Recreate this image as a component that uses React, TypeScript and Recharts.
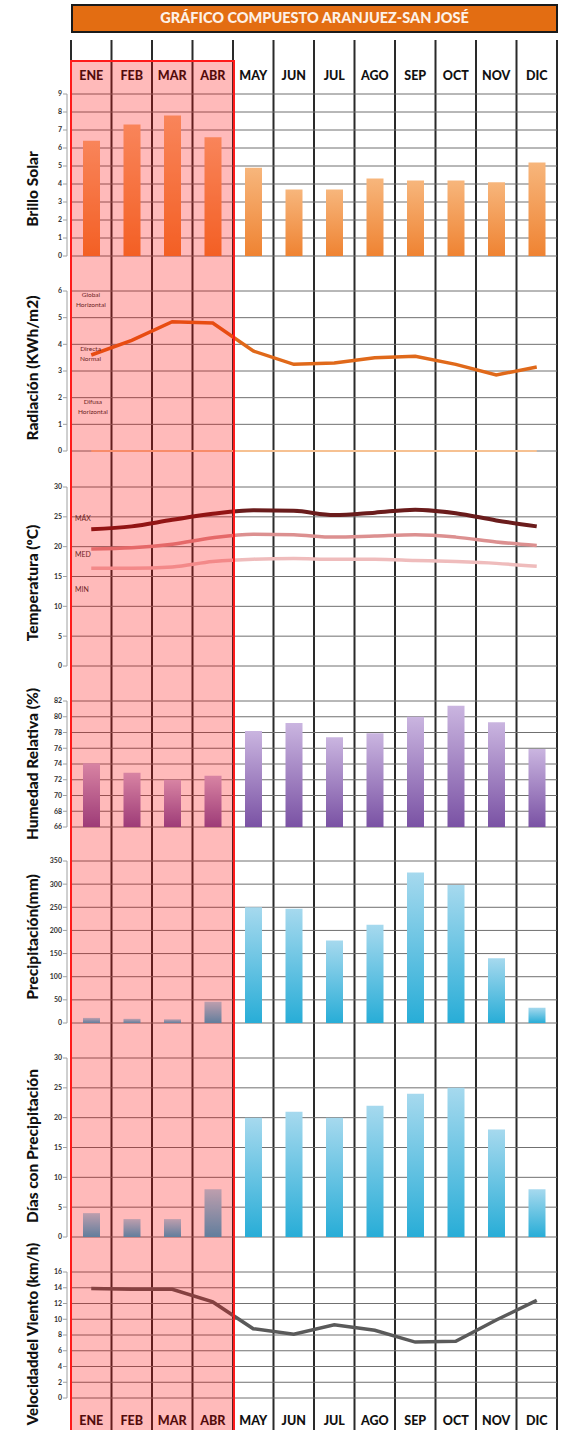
import { BarChart, Bar, LineChart, Line, ComposedChart, XAxis, YAxis, CartesianGrid } from "recharts";
import type { ReactNode } from "react";

const MONTHS = ["ENE", "FEB", "MAR", "ABR", "MAY", "JUN", "JUL", "AGO", "SEP", "OCT", "NOV", "DIC"];
const BRILLO_SOLAR = [6.4, 7.3, 7.8, 6.6, 4.9, 3.7, 3.7, 4.3, 4.2, 4.2, 4.1, 5.2];
const RADIACION = [3.6, 4.15, 4.85, 4.8, 3.75, 3.25, 3.3, 3.5, 3.55, 3.25, 2.85, 3.15];
const RADIACION_BASE = [0, 0, 0, 0, 0, 0, 0, 0, 0, 0, 0, 0];
const TEMP_MAX = [22.9, 23.4, 24.5, 25.5, 26.1, 26.0, 25.3, 25.7, 26.2, 25.6, 24.4, 23.4];
const TEMP_MED = [19.6, 19.8, 20.4, 21.5, 22.1, 22.0, 21.6, 21.8, 22.0, 21.6, 20.8, 20.2];
const TEMP_MIN = [16.4, 16.4, 16.6, 17.5, 17.9, 18.0, 17.9, 17.9, 17.7, 17.5, 17.2, 16.7];
const HUMEDAD = [74.1, 72.9, 72.0, 72.5, 78.2, 79.2, 77.4, 77.9, 80.0, 81.4, 79.3, 75.9];
const PRECIPITACION = [11, 9, 8, 46, 250, 247, 178, 212, 325, 298, 140, 33];
const DIAS_PRECIPITACION = [4, 3, 3, 8, 20, 21, 20, 22, 24, 25, 18, 8];
const VIENTO = [13.9, 13.8, 13.8, 12.2, 8.8, 8.1, 9.3, 8.6, 7.1, 7.2, 9.9, 12.4];

const BRILLO_TICKS = [0, 1, 2, 3, 4, 5, 6, 7, 8, 9];
const RADIACION_TICKS = [0, 1, 2, 3, 4, 5, 6];
const TEMP_TICKS = [0, 5, 10, 15, 20, 25, 30];
const HUMEDAD_TICKS = [66, 68, 70, 72, 74, 76, 78, 80, 82];
const PRECIP_TICKS = [0, 50, 100, 150, 200, 250, 300, 350];
const DIAS_TICKS = [0, 5, 10, 15, 20, 25, 30];
const VIENTO_TICKS = [0, 2, 4, 6, 8, 10, 12, 14, 16];
const FRAME_TICKS = [0, 1, 2, 3, 4, 5, 6, 7, 8, 9, 10, 11, 12];

const data = MONTHS.map((month, i) => ({
  month,
  pos: i + 0.5,
  brillo: BRILLO_SOLAR[i],
  rad: RADIACION[i],
  radBase: RADIACION_BASE[i],
  tMax: TEMP_MAX[i],
  tMed: TEMP_MED[i],
  tMin: TEMP_MIN[i],
  hum: HUMEDAD[i],
  prec: PRECIPITACION[i],
  dias: DIAS_PRECIPITACION[i],
  viento: VIENTO[i],
}));

const FONT = "Lato, 'Open Sans', sans-serif";
const W = 565;
const MARGIN = { top: 5, right: 8, left: 31, bottom: 5 };
const tickStyle = { fontSize: 7, fontWeight: 700, fill: "#333", fontFamily: FONT };
const monthTick = { fontSize: 12.5, fontWeight: 900, fill: "#111", fontFamily: FONT };

function yAxis(domain: number[], ticks: number[]) {
  return (
    <YAxis
      width={40}
      domain={domain}
      ticks={ticks}
      interval={0}
      tick={tickStyle}
      tickSize={4}
      tickMargin={5}
      axisLine={{ stroke: "#a0a0a0", transform: "translate(-4,0)" }}
      tickLine={{ stroke: "#a0a0a0", transform: "translate(-4,0)" }}
    />
  );
}

const grid = <CartesianGrid vertical={false} stroke="#707070" strokeWidth={1} />;

function AxisLabel({ text, cy, size = 15.5 }: { text: string; cy: number; size?: number }) {
  return (
    <div
      style={{
        position: "absolute",
        left: 32 - 130,
        top: cy - 10,
        width: 260,
        height: 20,
        lineHeight: "20px",
        textAlign: "center",
        transform: "rotate(-90deg)",
        fontFamily: FONT,
        fontWeight: 900,
        fontSize: size,
        color: "#111",
        whiteSpace: "nowrap",
      }}
    >
      {text}
    </div>
  );
}

function Note({ x, y, children, size = 6.5 }: { x: number; y: number; children: ReactNode; size?: number }) {
  return (
    <div
      style={{
        position: "absolute",
        left: x,
        top: y,
        fontFamily: FONT,
        fontSize: size,
        lineHeight: `${size + 3}px`,
        color: "#333",
        textAlign: "center",
      }}
    >
      {children}
    </div>
  );
}

function Box({ top, children }: { top: number; children: ReactNode }) {
  return <div style={{ position: "absolute", left: 0, top }}>{children}</div>;
}

export default function App() {
  return (
    <div
      style={{
        position: "absolute",
        left: 0,
        top: 0,
        width: W,
        height: 1430,
        overflow: "hidden",
        background: "#fff",
        fontFamily: FONT,
      }}
    >
      {/* column separators */}
      <Box top={0}>
        <ComposedChart width={W} height={1430} data={data} margin={{ top: 40, right: 8, left: 71, bottom: 0 }}>
          <XAxis type="number" dataKey="pos" domain={[0, 12]} ticks={FRAME_TICKS} hide />
          <YAxis hide domain={[0, 1]} />
          <CartesianGrid horizontal={false} stroke="#2a2a2a" strokeWidth={2} />
        </ComposedChart>
      </Box>

      <div
        style={{
          position: "absolute",
          left: 71,
          top: 4,
          width: 487,
          height: 29,
          boxSizing: "border-box",
          border: "2.5px solid #1a1a1a",
          background: "#e36d12",
          color: "#fdf1e7",
          fontFamily: FONT,
          fontWeight: 900,
          fontSize: 14.5,
          lineHeight: "24px",
          textAlign: "center",
        }}
      >
        GRÁFICO COMPUESTO ARANJUEZ-SAN JOSÉ
      </div>

      {/* Brillo Solar */}
      <Box top={59}>
        <BarChart width={W} height={202} data={data} margin={MARGIN}>
          <defs>
            <linearGradient id="gOrange" x1="0" y1="0" x2="0" y2="1">
              <stop offset="0%" stopColor="#f7b67c" />
              <stop offset="100%" stopColor="#ef8332" />
            </linearGradient>
          </defs>
          {grid}
          <XAxis
            dataKey="month"
            orientation="top"
            height={30}
            scale="band"
            axisLine={false}
            tickLine={false}
            tickSize={0}
            tickMargin={14}
            interval={0}
            tick={monthTick}
          />
          {yAxis([0, 9], BRILLO_TICKS)}
          <Bar dataKey="brillo" barSize={17} fill="url(#gOrange)" isAnimationActive={false} />
        </BarChart>
      </Box>

      {/* Radiación */}
      <Box top={286}>
        <LineChart width={W} height={170} data={data} margin={MARGIN}>
          {grid}
          <XAxis dataKey="month" scale="band" hide />
          {yAxis([0, 6], RADIACION_TICKS)}
          <Line dataKey="radBase" stroke="#f6c192" strokeWidth={2} dot={false} isAnimationActive={false} />
          <Line type="linear" dataKey="rad" stroke="#e0691a" strokeWidth={3.5} dot={false} isAnimationActive={false} />
        </LineChart>
      </Box>

      {/* Temperatura */}
      <Box top={482}>
        <LineChart width={W} height={189} data={data} margin={MARGIN}>
          {grid}
          <XAxis dataKey="month" scale="band" hide />
          {yAxis([0, 30], TEMP_TICKS)}
          <Line type="monotone" dataKey="tMin" stroke="#efbcbc" strokeWidth={3.5} dot={false} isAnimationActive={false} />
          <Line type="monotone" dataKey="tMed" stroke="#dc9090" strokeWidth={3.5} dot={false} isAnimationActive={false} />
          <Line type="monotone" dataKey="tMax" stroke="#6a1c1c" strokeWidth={4} dot={false} isAnimationActive={false} />
        </LineChart>
      </Box>

      {/* Humedad */}
      <Box top={696}>
        <BarChart width={W} height={136} data={data} margin={MARGIN}>
          <defs>
            <linearGradient id="gPurple" x1="0" y1="0" x2="0" y2="1">
              <stop offset="0%" stopColor="#cab5e0" />
              <stop offset="100%" stopColor="#7a52a4" />
            </linearGradient>
          </defs>
          {grid}
          <XAxis dataKey="month" scale="band" hide />
          {yAxis([66, 82], HUMEDAD_TICKS)}
          <Bar dataKey="hum" barSize={17} fill="url(#gPurple)" isAnimationActive={false} />
        </BarChart>
      </Box>

      {/* Precipitación */}
      <Box top={856}>
        <BarChart width={W} height={172} data={data} margin={MARGIN}>
          <defs>
            <linearGradient id="gBlue" x1="0" y1="0" x2="0" y2="1">
              <stop offset="0%" stopColor="#a6d9ee" />
              <stop offset="100%" stopColor="#28add7" />
            </linearGradient>
          </defs>
          {grid}
          <XAxis dataKey="month" scale="band" hide />
          {yAxis([0, 350], PRECIP_TICKS)}
          <Bar dataKey="prec" barSize={17} fill="url(#gBlue)" isAnimationActive={false} />
        </BarChart>
      </Box>

      {/* Días con Precipitación */}
      <Box top={1053}>
        <BarChart width={W} height={189} data={data} margin={MARGIN}>
          <defs>
            <linearGradient id="gBlue2" x1="0" y1="0" x2="0" y2="1">
              <stop offset="0%" stopColor="#a6d9ee" />
              <stop offset="100%" stopColor="#28add7" />
            </linearGradient>
          </defs>
          {grid}
          <XAxis dataKey="month" scale="band" hide />
          {yAxis([0, 30], DIAS_TICKS)}
          <Bar dataKey="dias" barSize={17} fill="url(#gBlue2)" isAnimationActive={false} />
        </BarChart>
      </Box>

      {/* Velocidad del Viento */}
      <Box top={1267}>
        <LineChart width={W} height={166} data={data} margin={MARGIN}>
          {grid}
          <XAxis
            dataKey="month"
            orientation="bottom"
            height={30}
            scale="band"
            axisLine={false}
            tickLine={false}
            tickSize={0}
            tickMargin={18}
            interval={0}
            tick={monthTick}
          />
          {yAxis([0, 16], VIENTO_TICKS)}
          <Line type="linear" dataKey="viento" stroke="#5a5a5a" strokeWidth={3.5} dot={false} isAnimationActive={false} />
        </LineChart>
      </Box>

      <Note x={76} y={290}>Global<br />Horizontal</Note>
      <Note x={80} y={344}>Directa<br />Normal</Note>
      <Note x={78} y={397}>Difusa<br />Horizontal</Note>
      <Note x={75} y={513} size={7}>MÁX</Note>
      <Note x={75} y={549} size={7}>MED</Note>
      <Note x={75} y={584} size={7}>MIN</Note>

      <AxisLabel text="Brillo Solar" cy={189} />
      <AxisLabel text="Radiación (KWh/m2)" cy={368} />
      <AxisLabel text="Temperatura (ºC)" cy={583} />
      <AxisLabel text="Humedad Relativa (%)" cy={764} />
      <AxisLabel text="Precipitación(mm)" cy={937} />
      <AxisLabel text="Días con Precipitación" cy={1146} />
      <AxisLabel text="Velocidaddel Viento (km/h)" cy={1334} size={15} />

      {/* highlighted dry season */}
      <div
        style={{
          position: "absolute",
          left: 70,
          top: 60,
          width: 165,
          height: 1400,
          boxSizing: "border-box",
          border: "2.5px solid #ff1a1a",
          background: "rgba(255, 0, 0, 0.27)",
          pointerEvents: "none",
        }}
      />
    </div>
  );
}
